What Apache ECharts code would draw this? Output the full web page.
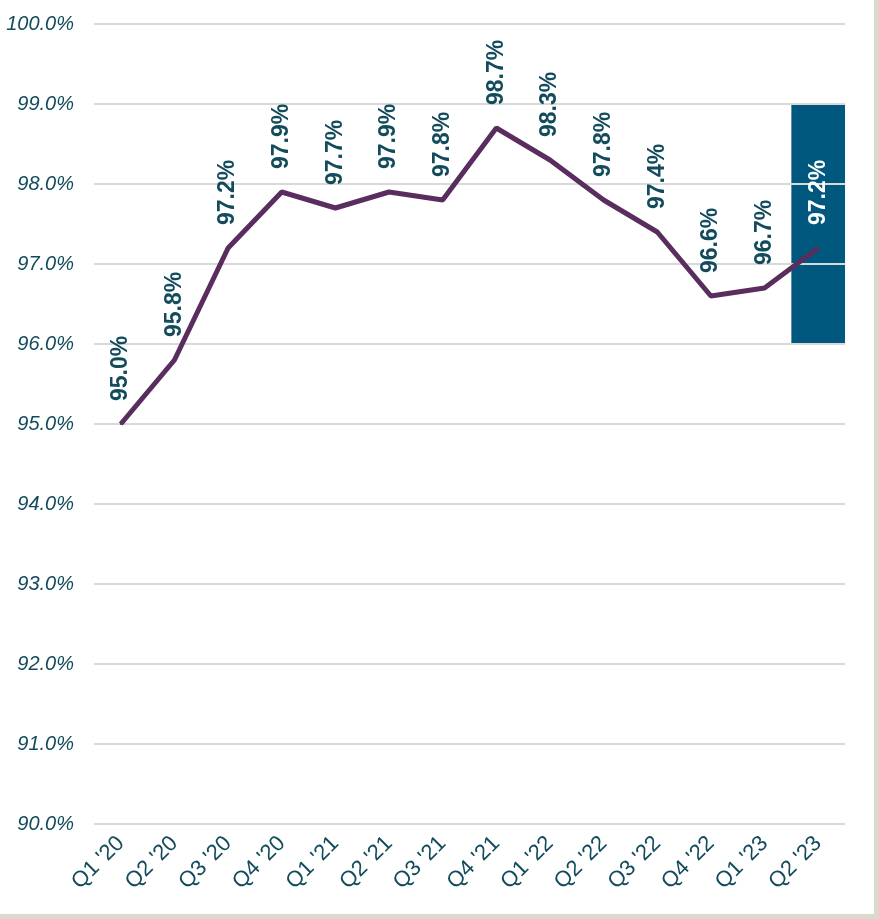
<!DOCTYPE html>
<html>
<head>
<meta charset="utf-8">
<script src="https://cdn.jsdelivr.net/npm/echarts@6/dist/echarts.min.js"></script>
<style>
html,body{margin:0;padding:0;background:#dcd7cf;}
#c{width:874px;height:914px;background:#ffffff;}
</style>
</head>
<body>
<div id="c"></div>
<script>
const categories = ["Q1 '20","Q2 '20","Q3 '20","Q4 '20","Q1 '21","Q2 '21","Q3 '21","Q4 '21","Q1 '22","Q2 '22","Q3 '22","Q4 '22","Q1 '23","Q2 '23"];
const values = [95.0, 95.8, 97.2, 97.9, 97.7, 97.9, 97.8, 98.7, 98.3, 97.8, 97.4, 96.6, 96.7, 97.2];
const bandLow = 96.0;
const bandHigh = 99.0;
const bandIndex = 13;
const yMin = 90, yMax = 100, yStep = 1;

const teal = '#124b5c';
const baseData = categories.map((c,i)=> i===bandIndex ? bandLow : null);
const bandData = categories.map((c,i)=> i===bandIndex ? +(bandHigh-bandLow).toFixed(2) : null);

const chart = echarts.init(document.getElementById('c'));
chart.setOption({
  animation:false,
  backgroundColor:'#ffffff',
  grid:{left:94,right:29,top:24,bottom:90,containLabel:false},
  xAxis:{
    type:'category',
    data:categories,
    boundaryGap:true,
    axisLine:{show:false},
    axisTick:{show:false},
    axisLabel:{rotate:45,margin:16,fontSize:22,color:teal,fontFamily:'Liberation Sans, Arial, sans-serif',interval:0}
  },
  yAxis:{
    type:'value',
    min:yMin,max:yMax,interval:yStep,
    z:3,
    axisLine:{show:false},
    axisTick:{show:false},
    splitLine:{show:true,lineStyle:{color:'#d9d9d9',width:2}},
    axisLabel:{margin:20,fontSize:20,fontStyle:'italic',color:teal,fontFamily:'Liberation Sans, Arial, sans-serif',
      formatter:v=>v.toFixed(1)+'%'}
  },
  series:[
    {type:'bar',stack:'b',data:baseData,barWidth:'100%',itemStyle:{color:'transparent'},z:1,silent:true},
    {type:'bar',stack:'b',data:bandData,barWidth:'100%',itemStyle:{color:'#00587f'},z:1},
    {type:'line',data:values.map((v,i)=>({value:v,label:{color:i===bandIndex?'#ffffff':teal}})),z:5,
      symbol:'circle',symbolSize:2,showSymbol:true,itemStyle:{color:'#5a2d5f'},
      lineStyle:{color:'#5a2d5f',width:5},
      labelLayout:{hideOverlap:false},
      label:{show:true,position:'top',rotate:90,align:'left',verticalAlign:'middle',distance:22,
        fontSize:23,fontWeight:'bold',fontFamily:'Liberation Sans, Arial, sans-serif',
        formatter:p=>p.value.toFixed(1)+'%'}}
  ]
});
</script>
</body>
</html>
